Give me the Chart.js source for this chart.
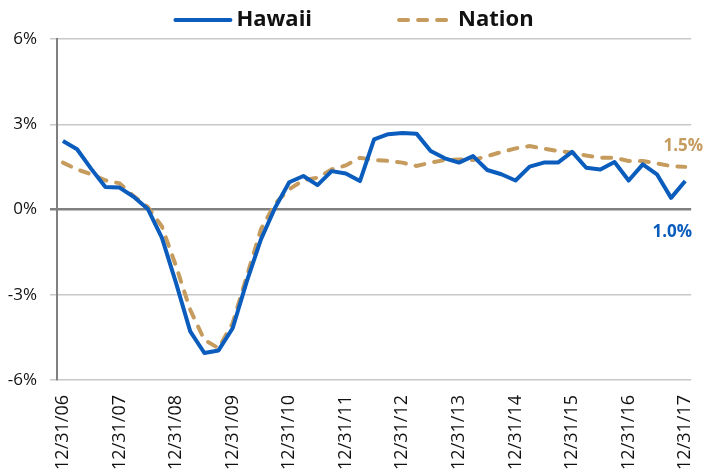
<!DOCTYPE html>
<html><head><meta charset="utf-8">
<script src="https://cdn.jsdelivr.net/npm/chart.js@4/dist/chart.umd.min.js"></script>
<style>html,body{margin:0;padding:0;background:#fff}#wrap{width:714px;height:473px;position:relative}</style>
</head><body><div id="wrap"><canvas id="c"></canvas></div>
<script>
const dateLabels = ['12/31/06','12/31/07','12/31/08','12/31/09','12/31/10','12/31/11','12/31/12','12/31/13','12/31/14','12/31/15','12/31/16','12/31/17'];
const hawaii = [2.41,2.12,1.43,0.79,0.77,0.45,0.02,-1.0,-2.59,-4.29,-5.05,-4.96,-4.18,-2.53,-1.05,0.06,0.96,1.18,0.86,1.35,1.27,1.0,2.47,2.65,2.69,2.67,2.06,1.8,1.65,1.88,1.39,1.24,1.02,1.51,1.65,1.65,2.03,1.47,1.41,1.67,1.02,1.59,1.24,0.41,1.0];
const nation = [1.65,1.41,1.24,1.03,0.92,0.47,0.09,-0.6,-2.0,-3.53,-4.59,-4.88,-4.0,-2.35,-0.7,0.21,0.71,1.03,1.12,1.41,1.55,1.82,1.74,1.71,1.65,1.53,1.65,1.74,1.76,1.74,1.88,2.02,2.15,2.23,2.14,2.06,2.0,1.9,1.82,1.82,1.71,1.71,1.62,1.53,1.5];
const seriesNames = ['Hawaii','Nation'];
const blue = '#0a5cbd';
const tan = '#c59b5e';
const FONT = "'Open Sans', sans-serif";
const nationDash = [9, 10];

const topLegend = {
  id: 'topLegend',
  afterDraw(chart) {
    const ctx = chart.ctx;
    ctx.save();
    ctx.font = "bold 22px " + FONT;
    ctx.textBaseline = 'middle';
    const lineLens = [57, 50];
    const gaps = [5, 11];
    const itemGap = 85;
    const widths = chart.data.datasets.map((d, i) => lineLens[i] + gaps[i] + ctx.measureText(d.label).width);
    const total = widths.reduce((a, b) => a + b, 0) + itemGap;
    let x = chart.width / 2 - 3 - total / 2;
    const y = 20;
    chart.data.datasets.forEach((d, i) => {
      ctx.save();
      ctx.strokeStyle = d.borderColor;
      ctx.lineWidth = 4;
      ctx.lineCap = 'round';
      if (d.borderDash) ctx.setLineDash(d.borderDash);
      ctx.beginPath();
      if (d.borderDash) { ctx.moveTo(x + 2, y); ctx.lineTo(x + lineLens[i], y); }
      else { ctx.moveTo(x + 1, y); ctx.lineTo(x + lineLens[i] - 1, y); }
      ctx.stroke();
      ctx.restore();
      ctx.fillStyle = '#111';
      ctx.textAlign = 'left';
      ctx.fillText(d.label, x + lineLens[i] + gaps[i], y);
      x += widths[i] + itemGap;
    });
    ctx.restore();
  }
};

const endLabels = {
  id: 'endLabels',
  afterDatasetsDraw(chart) {
    const ctx = chart.ctx;
    ctx.save();
    ctx.font = "bold 17px " + FONT;
    ctx.textAlign = 'center';
    ctx.textBaseline = 'middle';
    const mN = chart.getDatasetMeta(1).data;
    const pN = mN[mN.length - 1];
    ctx.fillStyle = tan;
    ctx.fillText(nation[nation.length - 1].toFixed(1) + '%', pN.x - 2, pN.y - 21);
    const mH = chart.getDatasetMeta(0).data;
    const pH = mH[mH.length - 1];
    ctx.fillStyle = blue;
    ctx.fillText(hawaii[hawaii.length - 1].toFixed(1) + '%', pH.x - 13, pH.y + 51);
    ctx.restore();
  }
};

new Chart(document.getElementById('c'), {
  type: 'line',
  data: {
    datasets: [
      { label: seriesNames[0], data: hawaii.map((v, i) => ({x: i, y: v})), borderColor: blue, backgroundColor: blue,
        borderWidth: 4, pointRadius: 0, tension: 0, borderJoinStyle: 'round' },
      { label: seriesNames[1], data: nation.map((v, i) => ({x: i, y: v})), borderColor: tan, backgroundColor: tan,
        borderWidth: 4, pointRadius: 0, tension: 0, borderDash: nationDash, borderCapStyle: 'round' }
    ]
  },
  options: {
    responsive: true, maintainAspectRatio: false, animation: false,
    layout: { padding: { left: 5, right: 19, top: 39, bottom: 0 } },
    plugins: {
      legend: { display: false },
      tooltip: { enabled: false }
    },
    scales: {
      x: {
        type: 'linear', min: -0.42, max: 44.42,
        afterBuildTicks: (axis) => { axis.ticks = dateLabels.map((_, i) => ({ value: i * 4 })); },
        afterFit: (s) => { s.height = 93; },
        ticks: { callback: (v) => dateLabels[Math.round(v / 4)], maxRotation: 90, minRotation: 90, autoSkip: false,
          color: '#111', font: { family: FONT, size: 18 }, padding: 7 },
        grid: { display: false },
        border: { display: false }
      },
      y: {
        min: -6, max: 6,
        afterFit: (s) => { s.width = 52; },
        ticks: { stepSize: 3, callback: (v) => v + '%', color: '#111', font: { family: FONT, size: 17 }, padding: 13 },
        grid: {
          color: (c) => c.tick && c.tick.value === 0 ? '#808080' : '#c8c8c8',
          lineWidth: (c) => c.tick && c.tick.value === 0 ? 2.5 : 1.5,
          tickLength: 7
        },
        border: { color: '#808080', width: 2 }
      }
    }
  },
  plugins: [endLabels, topLegend]
});
</script></body></html>
